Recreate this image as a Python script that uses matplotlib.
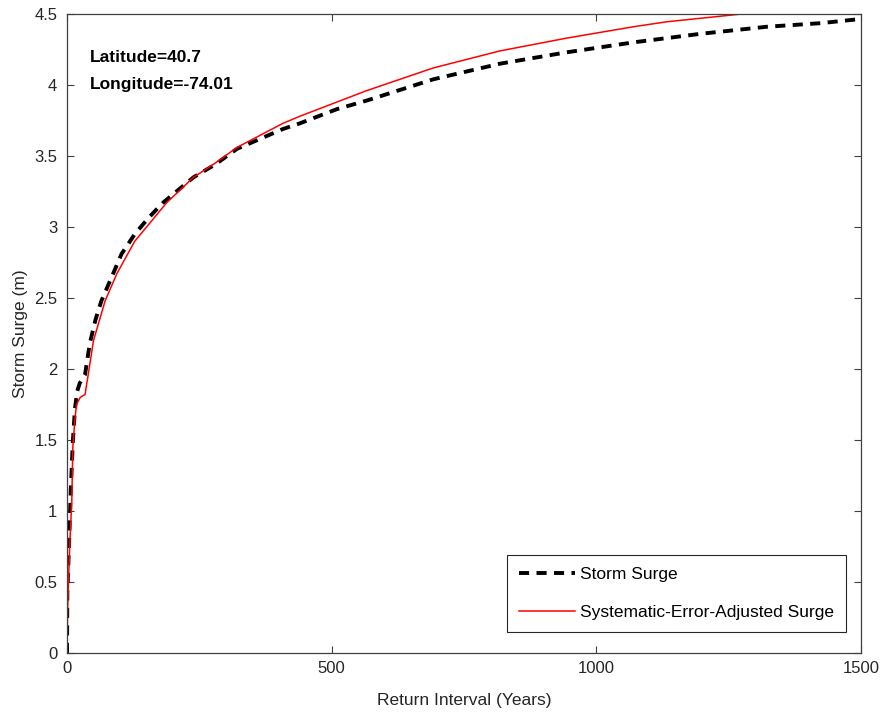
import matplotlib
matplotlib.use("Agg")
import matplotlib.pyplot as plt

# Storm surge curve (return interval in years vs surge in m)
surge_years = [0, 0.6, 4, 7, 11, 15, 19, 24, 34, 43, 54, 65, 87, 103, 128, 153,
               181, 239, 280, 321, 408, 440, 510, 566, 692, 818, 944, 1070,
               1196, 1322, 1423, 1500]
surge_m = [0, 0.42, 0.79, 1.14, 1.49, 1.72, 1.84, 1.90, 1.96, 2.18, 2.35, 2.48,
           2.67, 2.81, 2.95, 3.06, 3.17, 3.35, 3.44, 3.55, 3.69, 3.73, 3.83,
           3.89, 4.04, 4.15, 4.23, 4.30, 4.36, 4.41, 4.435, 4.465]

# Systematic-error-adjusted curve
adj_years = [0, 1, 5, 9, 11, 15, 18, 25, 34, 40, 50, 72, 94, 128, 157, 188,
             239, 280, 321, 408, 440, 510, 566, 692, 818, 944, 1070, 1133, 1275]
adj_m = [0, 0.3, 0.75, 1.07, 1.45, 1.65, 1.75, 1.80, 1.82, 1.96, 2.2, 2.48,
         2.67, 2.90, 3.03, 3.17, 3.35, 3.45, 3.56, 3.73, 3.78, 3.88, 3.96,
         4.12, 4.24, 4.33, 4.41, 4.445, 4.5]

xticks = [0, 500, 1000, 1500]
yticks = [0, 0.5, 1, 1.5, 2, 2.5, 3, 3.5, 4, 4.5]
ytick_labels = ["0", "0.5", "1", "1.5", "2", "2.5", "3", "3.5", "4", "4.5"]

plt.rcParams['font.family'] = ['Liberation Sans', 'DejaVu Sans']
axis_color = '#404040'
text_color = '#262626'

fig = plt.figure(figsize=(8.83, 7.13), dpi=100)
ax = fig.add_axes([0.0759, 0.0842, 0.8992, 0.8962])

ax.plot(surge_years, surge_m, color='black', linewidth=2.8, linestyle=(0, (2.6, 1.9)),
        label='Storm Surge')
ax.plot(adj_years, adj_m, color='red', linewidth=1.1, label='Systematic-Error-Adjusted Surge')

ax.set_xlim(0, 1500)
ax.set_ylim(0, 4.5)
ax.set_xticks(xticks)
ax.set_yticks(yticks)
ax.set_yticklabels(ytick_labels)
ax.tick_params(direction='in', top=True, right=True, length=5, width=0.8,
               colors=axis_color, labelsize=12, labelcolor=text_color)
ax.tick_params(axis='x', pad=6)
ax.tick_params(axis='y', pad=7)
for sp in ax.spines.values():
    sp.set_color(axis_color)
    sp.set_linewidth(0.9)

ax.set_xlabel('Return Interval (Years)', fontsize=12.5, color=text_color, labelpad=12)
ax.set_ylabel('Storm Surge (m)', fontsize=12.5, color=text_color, labelpad=4.5)

ax.text(43, 4.19, 'Latitude=40.7', fontsize=12.5, fontweight='bold', va='center')
ax.text(43, 4.0, 'Longitude=-74.01', fontsize=12.5, fontweight='bold', va='center')

legend = ax.legend(loc='lower right', bbox_to_anchor=(0.981, 0.033), borderaxespad=0,
                   fontsize=12.5, fancybox=False, framealpha=1, edgecolor=text_color,
                   handlelength=3.2, handletextpad=0.3, borderpad=0.7, labelspacing=1.3)
legend.get_frame().set_linewidth(0.8)

fig.savefig('out.png', dpi=100)
